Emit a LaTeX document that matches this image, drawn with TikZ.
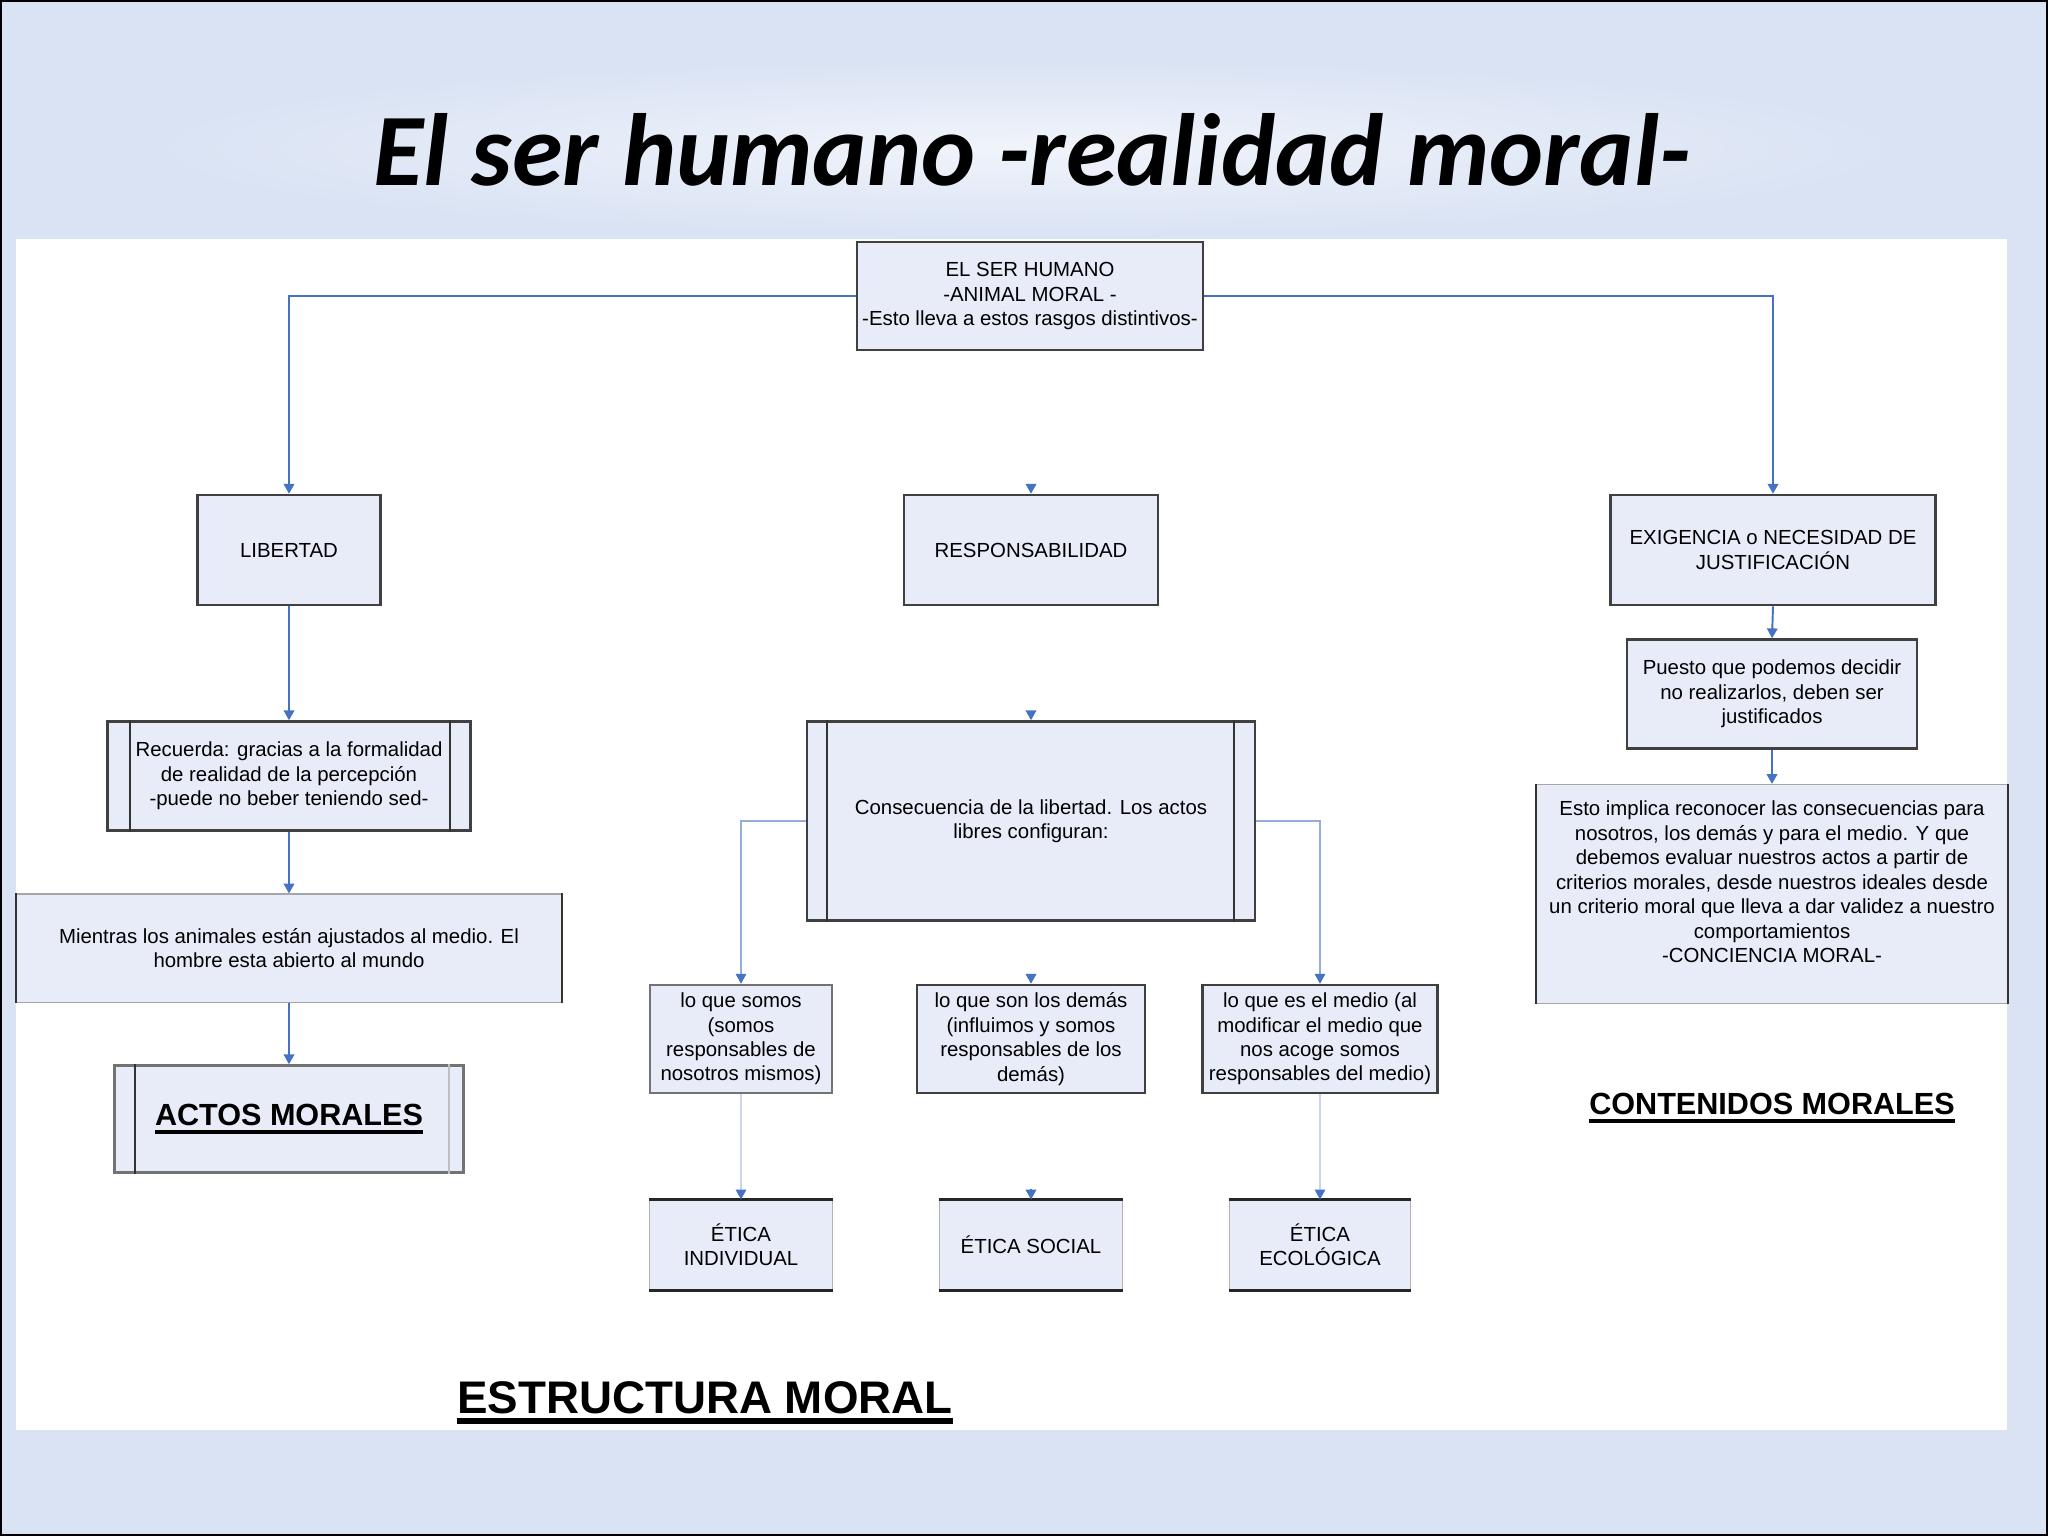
\documentclass[tikz,border=0pt]{standalone}
\usepackage{fontspec}
\setmainfont{Liberation Sans}
\newfontfamily\titlefont{Carlito}
\usetikzlibrary{arrows.meta}
\definecolor{slidebg}{RGB}{218,227,244}
\definecolor{boxfill}{RGB}{232,236,248}
\definecolor{connblue}{RGB}{70,114,196}
\definecolor{connlt}{RGB}{150,172,218}
\newcommand\smallf{\fontsize{5.8}{6.95}\selectfont}
\newcommand\thickul[2]{\vtop{\hbox{#1}\kern1.2pt\hrule height #2}}
\begin{document}
\begin{tikzpicture}[x=0.01cm,y=-0.01cm,
  box/.style={rectangle, fill=boxfill, draw=black!75, line width=0.7pt, align=center, font=\smallf, inner sep=0pt},
  conn/.style={draw=connblue, line width=0.55pt, -{Triangle[length=2.8pt,width=3pt]}},
  connthin/.style={draw=connlt, line width=0.3pt, -{Triangle[length=2.8pt,width=3pt,color=connblue]}},
  sidebar/.style={draw=black!80, line width=0.6pt},
  biglabel/.style={font=\bfseries, inner sep=0pt}]
\useasboundingbox (0,0) rectangle (2048,1536);
% slide background
\fill[slidebg] (0,0) rectangle (2048,1536);
\shade[inner color=slidebg!40!white, outer color=slidebg] (150,60) rectangle (1900,235);
\fill[white] (16,239) rectangle (2007,1430);
\draw[black, line width=0.8pt] (1,1) rectangle (2047,1535);
% title
\node[font=\titlefont\bfseries\itshape\fontsize{29.2}{35}\selectfont] (title) at (1032,150) {El ser humano -realidad moral-};
% top box
\node[box, minimum width=3.46cm, minimum height=1.08cm] (top) at (1030,296)
  {EL SER HUMANO\\-ANIMAL MORAL -\\-Esto lleva a estos rasgos distintivos-};
% level 1
\node[box, minimum width=1.83cm, minimum height=1.10cm] (lib) at (289,550) {LIBERTAD};
\node[box, minimum width=2.54cm, minimum height=1.10cm] (resp) at (1031,550) {RESPONSABILIDAD};
\node[box, minimum width=3.25cm, minimum height=1.10cm] (exig) at (1773,550) {EXIGENCIA o NECESIDAD DE\\JUSTIFICACIÓN};
% left column
\node[box, minimum width=3.63cm, minimum height=1.09cm] (rec) at (289,776)
  {Recuerda: gracias a la formalidad\\de realidad de la percepción\\-puede no beber teniendo sed-};
\draw[sidebar] ([xshift=0.24cm]rec.north west) -- ([xshift=0.24cm]rec.south west);
\draw[sidebar] ([xshift=-0.22cm]rec.north east) -- ([xshift=-0.22cm]rec.south east);
\node[box, draw=black!35, line width=0.3pt, minimum width=5.44cm, minimum height=1.08cm] (mien) at (289,948)
  {Mientras los animales están ajustados al medio. El\\hombre esta abierto al mundo};
\draw[sidebar] (mien.north west) -- (mien.south west);
\draw[sidebar] (mien.north east) -- (mien.south east);
\node[box, draw=black!55, minimum width=3.49cm, minimum height=1.07cm, font=\bfseries\fontsize{8.7}{10}\selectfont] (actos) at (289,1119)
  {\thickul{ACTOS MORALES}{1.2pt}};
\draw[sidebar] ([xshift=0.22cm]actos.north west) -- ([xshift=0.22cm]actos.south west);
\draw[draw=black!25, line width=0.4pt] ([xshift=-0.16cm]actos.north east) -- ([xshift=-0.16cm]actos.south east);
% right column
\node[box, minimum width=2.90cm, minimum height=1.09cm] (pues) at (1772,694)
  {Puesto que podemos decidir\\no realizarlos, deben ser\\justificados};
\node[box, draw=black!35, line width=0.3pt, minimum width=4.70cm, minimum height=2.19cm] (esto) at (1772,894)
  {Esto implica reconocer las consecuencias para\\nosotros, los demás y para el medio. Y que\\debemos evaluar nuestros actos a partir de\\criterios morales, desde nuestros ideales desde\\un criterio moral que lleva a dar validez a nuestro\\comportamientos\\-CONCIENCIA MORAL-\\ \mbox{}};
\draw[sidebar] (esto.north west) -- (esto.south west);
\draw[sidebar] (esto.north east) -- (esto.south east);
\node[biglabel, font=\bfseries\fontsize{8.7}{10}\selectfont] (cont) at (1772,1108) {\thickul{CONTENIDOS MORALES}{1.2pt}};
% middle column
\node[box, minimum width=4.48cm, minimum height=1.99cm] (cons) at (1031,821)
  {Consecuencia de la libertad. Los actos\\libres configuran:};
\draw[sidebar] ([xshift=0.21cm]cons.north west) -- ([xshift=0.21cm]cons.south west);
\draw[sidebar] ([xshift=-0.22cm]cons.north east) -- ([xshift=-0.22cm]cons.south east);
\node[box, draw=black!55, minimum width=1.82cm, minimum height=1.08cm] (somos) at (741,1039)
  {lo que somos\\(somos\\responsables de\\nosotros mismos)};
\node[box, minimum width=2.28cm, minimum height=1.08cm] (demas) at (1031,1039)
  {lo que son los demás\\(influimos y somos\\responsables de los\\demás)};
\node[box, minimum width=2.35cm, minimum height=1.08cm] (medio) at (1320,1039)
  {lo que es el medio (al\\modificar el medio que\\nos acoge somos\\responsables del medio)};
\node[box, draw=black!30, line width=0.3pt, minimum width=1.82cm, minimum height=0.90cm] (eind) at (741,1245) {ÉTICA\\INDIVIDUAL};
\node[box, draw=black!30, line width=0.3pt, minimum width=1.83cm, minimum height=0.90cm] (esoc) at (1031,1245) {ÉTICA SOCIAL};
\node[box, draw=black!30, line width=0.3pt, minimum width=1.81cm, minimum height=0.90cm] (eeco) at (1320,1245) {ÉTICA\\ECOLÓGICA};
\foreach \n in {eind,esoc,eeco}{
  \draw[black!85, line width=0.8pt] (\n.north west) -- (\n.north east);
  \draw[black!85, line width=0.8pt] (\n.south west) -- (\n.south east);
}
\node[biglabel, font=\bfseries\fontsize{13}{15}\selectfont] (estr) at (705,1403) {\thickul{ESTRUCTURA MORAL}{1.6pt}};
% connectors
\draw[conn] (top.west) -| (lib.north);
\draw[conn] (top.east) -| (exig.north);
\coordinate (r0) at (1031,484);
\draw[conn] (r0) -- (resp.north);
\draw[conn] (lib.south) -- (rec.north);
\draw[conn] (rec.south) -- (mien.north);
\draw[conn] (mien.south) -- (actos.north);
\draw[conn] (exig.south) -- (pues.north);
\draw[conn] (pues.south) -- (esto.north);
\coordinate (c0) at (1031,711);
\draw[conn] (c0) -- (cons.north);
\draw[connthin] (cons.west) -| (somos.north);
\draw[connthin] (cons.east) -| (medio.north);
\coordinate (d0) at (1031,974);
\draw[conn] (d0) -- (demas.north);
\draw[connthin, draw=connlt!50] (somos.south) -- (eind.north);
\draw[connthin, draw=connlt!50] (medio.south) -- (eeco.north);
\coordinate (s0) at (1031,1189);
\draw[conn] (s0) -- (esoc.north);
\end{tikzpicture}
\end{document}
